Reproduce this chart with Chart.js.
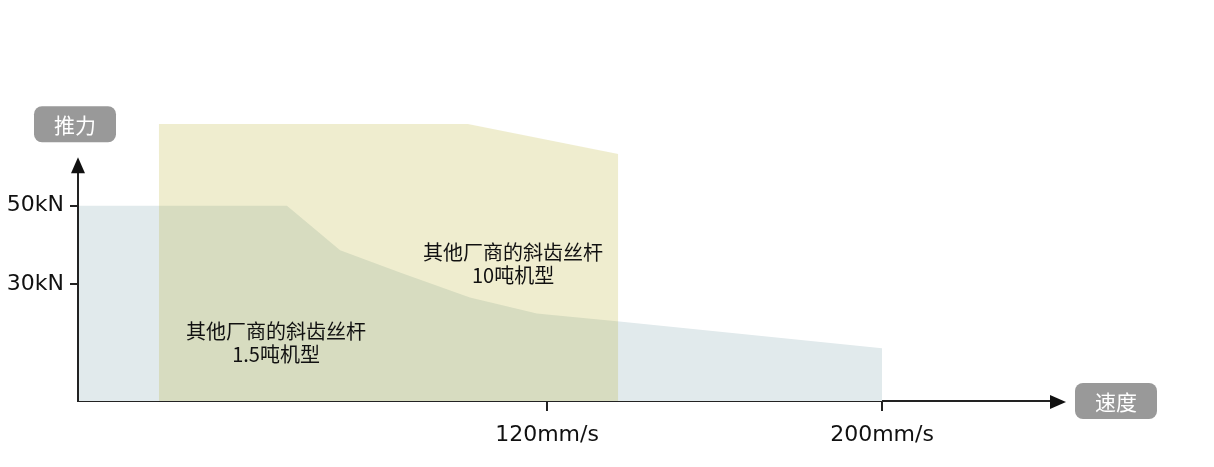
<!DOCTYPE html>
<html>
<head>
<meta charset="utf-8">
<script src="https://cdn.jsdelivr.net/npm/chart.js@4/dist/chart.umd.min.js"></script>
<style>
  html, body { margin: 0; padding: 0; background: #fff; }
</style>
</head>
<body>
<canvas id="myChart" width="1214" height="467"></canvas>
<script>
// speed in mm/s, thrust in kN
var smallSpeed  = [8, 57.9, 70.6, 84.9, 101.6, 117.6, 136.7, 200, 200];
var smallThrust = [50, 50, 38.6, 32.9, 26.5, 22.4, 20.4, 13.5, 0];
var largeSpeed  = [27.3, 27.3, 101.1, 137, 137];
var largeThrust = [0, 70.9, 70.9, 63.2, 0];

var speedTicks  = [120, 200];
var thrustTicks = [30, 50];
var smallLabel  = ['其他厂商的斜齿丝杆', '1.5吨机型'];
var largeLabel  = ['其他厂商的斜齿丝杆', '10吨机型'];
var yTitle = '推力';
var xTitle = '速度';

function toPoints(xs, ys) {
  var pts = [];
  for (var i = 0; i < xs.length; i++) {
    pts.push({x: xs[i], y: ys[i]});
  }
  return pts;
}

function roundBox(ctx, x, y, w, h, r) {
  ctx.beginPath();
  ctx.moveTo(x + r, y);
  ctx.lineTo(x + w - r, y);
  ctx.arcTo(x + w, y, x + w, y + r, r);
  ctx.lineTo(x + w, y + h - r);
  ctx.arcTo(x + w, y + h, x + w - r, y + h, r);
  ctx.lineTo(x + r, y + h);
  ctx.arcTo(x, y + h, x, y + h - r, r);
  ctx.lineTo(x, y + r);
  ctx.arcTo(x, y, x + r, y, r);
  ctx.closePath();
}

function titleBox(ctx, text, cx, cy) {
  ctx.fillStyle = '#999999';
  roundBox(ctx, cx - 41, cy - 18, 82, 36, 8);
  ctx.fill();
  ctx.fillStyle = '#ffffff';
  ctx.font = '21px "Noto Sans CJK SC"';
  ctx.textAlign = 'center';
  ctx.textBaseline = 'middle';
  ctx.fillText(text, cx, cy + 1);
}

function note(ctx, lines, cx, cy) {
  ctx.fillStyle = '#111111';
  ctx.font = '20px "Noto Sans CJK SC"';
  ctx.textAlign = 'center';
  ctx.textBaseline = 'middle';
  ctx.fillText(lines[0], cx, cy - 11);
  ctx.fillText(lines[1], cx, cy + 12);
}

// axis arrows, the short y axis line, title boxes and the two notes
var decorations = {
  id: 'decorations',
  afterDraw: function(chart) {
    var ctx = chart.ctx;
    var xs = chart.scales.x, ys = chart.scales.y;
    var x0 = xs.left, y0 = ys.getPixelForValue(0);
    var yTop = ys.getPixelForValue(62.4);
    var xEnd = xs.right + 6;

    ctx.save();
    ctx.strokeStyle = '#222222';
    ctx.fillStyle = '#111111';
    ctx.lineWidth = 2;
    ctx.beginPath();
    ctx.moveTo(x0, y0 + 1);
    ctx.lineTo(x0, yTop + 10);
    ctx.stroke();

    ctx.beginPath();
    ctx.moveTo(x0, yTop);
    ctx.lineTo(x0 - 7, yTop + 16);
    ctx.lineTo(x0 + 7, yTop + 16);
    ctx.closePath();
    ctx.fill();

    ctx.beginPath();
    ctx.moveTo(xEnd, y0 + 1);
    ctx.lineTo(xEnd - 16, y0 - 6);
    ctx.lineTo(xEnd - 16, y0 + 8);
    ctx.closePath();
    ctx.fill();

    titleBox(ctx, yTitle, x0 - 3, yTop - 33);
    titleBox(ctx, xTitle, xEnd + 50, y0);

    note(ctx, largeLabel, xs.getPixelForValue(111.9), ys.getPixelForValue(35.1));
    note(ctx, smallLabel, xs.getPixelForValue(55.3), ys.getPixelForValue(15.1));
    ctx.restore();
  }
};

var ctx = document.getElementById('myChart').getContext('2d');

var chart = new Chart(ctx, {
  type: 'line',
  data: {
    datasets: [{
      label: '10吨机型',
      data: toPoints(largeSpeed, largeThrust),
      backgroundColor: 'rgba(182, 173, 37, 0.22)',
      borderWidth: 0,
      pointRadius: 0,
      fill: 'origin',
      order: 0
    },
    {
      label: '1.5吨机型',
      data: toPoints(smallSpeed, smallThrust),
      backgroundColor: '#e1eaec',
      borderWidth: 0,
      pointRadius: 0,
      fill: 'origin',
      order: 1
    }]
  },
  options: {
    responsive: false,
    animation: false,
    events: [],
    layout: {
      padding: {left: 0, right: 154, top: 108, bottom: 0}
    },
    plugins: {
      legend: {display: false},
      tooltip: {enabled: false}
    },
    scales: {
      x: {
        type: 'linear',
        min: 8,
        max: 242.5,
        afterBuildTicks: function(scale) {
          scale.ticks = speedTicks.map(function(v) { return {value: v}; });
        },
        // fixed box sizes so the plot sits where the picture has it
        afterFit: function(scale) { scale.height = 66; },
        grid: {drawOnChartArea: false, tickLength: 10, color: '#222222', lineWidth: 2},
        border: {display: true, color: '#222222', width: 2},
        ticks: {
          padding: 11,
          color: '#111111',
          font: {family: '"DejaVu Sans"', size: 22},
          callback: function(v) { return v + 'mm/s'; }
        }
      },
      y: {
        min: 0,
        max: 75,
        afterBuildTicks: function(scale) {
          scale.ticks = thrustTicks.map(function(v) { return {value: v}; });
        },
        afterFit: function(scale) { scale.width = 78; },
        grid: {drawOnChartArea: false, tickLength: 8, color: '#222222', lineWidth: 2},
        border: {display: false},
        ticks: {
          padding: 6,
          color: '#111111',
          font: {family: '"DejaVu Sans"', size: 22},
          callback: function(v) { return v + 'kN'; }
        }
      }
    }
  },
  plugins: [decorations]
});
</script>
</body>
</html>
